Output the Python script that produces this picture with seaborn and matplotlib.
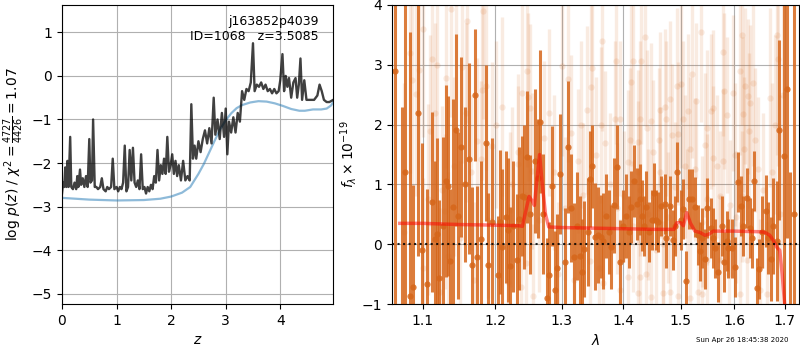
import numpy as np
import pandas as pd
import matplotlib
matplotlib.use("Agg")
import matplotlib.pyplot as plt
import matplotlib.ticker as mticker
import seaborn as sns

# ---------------- redshift probability ----------------
z_grid = [0.00, 0.02, 0.04, 0.06, 0.08, 0.10, 0.12, 0.15, 0.17, 0.20, 0.23, 0.26,
          0.28, 0.30, 0.33, 0.35, 0.38, 0.41, 0.44, 0.47, 0.50, 0.52, 0.55, 0.57,
          0.60, 0.63, 0.66, 0.70, 0.73, 0.76, 0.80, 0.83, 0.86, 0.90, 0.93, 0.96,
          1.00, 1.03, 1.06, 1.09, 1.12, 1.15, 1.18, 1.21, 1.24, 1.27, 1.30, 1.33,
          1.36, 1.39, 1.42, 1.45, 1.48, 1.51, 1.54, 1.57, 1.60, 1.63, 1.66, 1.69,
          1.72, 1.75, 1.78, 1.81, 1.84, 1.87, 1.90, 1.93, 1.96, 1.99, 2.02, 2.05,
          2.08, 2.11, 2.14, 2.18, 2.22, 2.26, 2.30, 2.34, 2.37, 2.40, 2.43, 2.46,
          2.50, 2.54, 2.58, 2.62, 2.66, 2.70, 2.74, 2.78, 2.81, 2.85, 2.89, 2.93,
          2.97, 3.00, 3.03, 3.06, 3.10, 3.14, 3.18, 3.22, 3.26, 3.30, 3.34, 3.38,
          3.42, 3.46, 3.50, 3.53, 3.57, 3.61, 3.65, 3.69, 3.73, 3.77, 3.81, 3.85,
          3.89, 3.93, 3.97, 4.00, 4.04, 4.07, 4.10, 4.13, 4.16, 4.20, 4.24, 4.28,
          4.31, 4.34, 4.37, 4.40, 4.44, 4.48, 4.55, 4.62, 4.68, 4.72, 4.76, 4.80,
          4.85, 4.90, 4.97]
log_pz = [-2.70, -2.45, -2.55, -2.10, -2.55, -1.95, -2.55, -1.40, -2.55, -2.60, -2.45, -2.60,
          -2.30, -2.55, -2.15, -2.50, -2.35, -2.55, -2.30, -2.55, -1.45, -2.45, -2.40, -1.00,
          -2.55, -2.55, -2.60, -2.55, -2.35, -2.60, -2.65, -2.55, -2.60, -2.55, -1.90, -2.60,
          -2.55, -2.65, -2.55, -2.60, -2.45, -1.60, -2.65, -2.55, -1.70, -2.40, -1.65, -2.45,
          -2.55, -2.40, -2.60, -1.80, -2.60, -2.55, -2.70, -2.55, -2.65, -2.50, -2.60, -2.30,
          -2.45, -1.70, -2.40, -2.05, -2.25, -1.90, -2.25, -1.40, -2.20, -2.05, -1.80, -2.25,
          -1.95, -2.30, -2.05, -2.40, -1.95, -2.40, -2.30, -2.40, -0.65, -1.90, -1.60, -1.90,
          -1.50, -1.75, -1.45, -1.25, -1.55, -1.20, -1.55, -0.50, -1.35, -1.00, -1.45, -0.85,
          -1.40, -0.75, -1.80, -1.05, -1.30, -0.95, -1.30, -0.85, -1.05, -0.35, -0.55, -0.30,
          -0.35, -0.15, 0.75, -0.35, -0.20, -0.25, -0.15, -0.30, -0.20, -0.35, -0.30, -0.40,
          -0.30, -0.40, -0.35, -0.10, 0.50, -0.35, 0.00, -0.25, -0.05, -0.50, -0.15, -0.05,
          -0.50, -0.20, 0.40, -0.55, -0.10, -0.55, -0.55, -0.55, -0.45, -0.20, -0.35, -0.55,
          -0.60, -0.60, -0.55]

z_chi = [0.0, 0.5, 1.0, 1.5, 1.8, 2.0, 2.2, 2.35, 2.5, 2.6, 2.7, 2.8, 2.9, 3.0, 3.1,
         3.2, 3.3, 3.45, 3.6, 3.75, 3.9, 4.05, 4.2, 4.35, 4.45, 4.6, 4.75, 4.85, 4.93, 4.97]
chi_curve = [-2.80, -2.84, -2.86, -2.85, -2.82, -2.77, -2.68, -2.55, -2.25, -2.02, -1.75,
             -1.48, -1.22, -1.02, -0.86, -0.74, -0.67, -0.61, -0.58, -0.59, -0.63, -0.69,
             -0.76, -0.80, -0.80, -0.77, -0.77, -0.75, -0.68, -0.60]

# ---------------- 1D spectrum (primary beam) ----------------
wave = [1.064, 1.0727, 1.0771, 1.0827, 1.0870, 1.0931, 1.0983, 1.1053, 1.1129, 1.1164,
        1.1196, 1.1222, 1.1276, 1.1313, 1.1336, 1.1372, 1.1413, 1.1454, 1.1482, 1.1524,
        1.1575, 1.1635, 1.1677, 1.1719, 1.1748, 1.1795, 1.1876, 1.1904, 1.1960, 1.2038,
        1.2072, 1.2106, 1.2155, 1.2194, 1.2218, 1.2267, 1.2316, 1.2350, 1.2390, 1.2430,
        1.2475, 1.2521, 1.2591, 1.2631, 1.2672, 1.2717, 1.2768, 1.2804, 1.2845, 1.2897,
        1.2928, 1.2980, 1.3058, 1.3106, 1.3154, 1.3191, 1.3238, 1.3291, 1.3329, 1.3361,
        1.3420, 1.3458, 1.3491, 1.3534, 1.3578, 1.3637, 1.3670, 1.3719, 1.3757, 1.3801,
        1.3845, 1.3900, 1.3950, 1.4003, 1.4053, 1.4093, 1.4138, 1.4178, 1.4234, 1.4280,
        1.4326, 1.4361, 1.4396, 1.4448, 1.4489, 1.4523, 1.4558, 1.4598, 1.4657, 1.4716,
        1.4746, 1.4805, 1.4864, 1.4900, 1.4941, 1.5001, 1.5049, 1.5103, 1.5145, 1.5206,
        1.5255, 1.5316, 1.5347, 1.5396, 1.5445, 1.5491, 1.5553, 1.5591, 1.5635, 1.5697,
        1.5759, 1.5810, 1.5854, 1.5886, 1.5950, 1.6014, 1.6078, 1.6124, 1.6175, 1.6241,
        1.6306, 1.6352, 1.6391, 1.6450, 1.6490, 1.6537, 1.6616, 1.6669, 1.6716, 1.6770,
        1.6838, 1.6892, 1.6987, 1.7056, 1.7110, 1.7190]
flux = [2.89, -1.30, 1.20, -0.86, -0.71, 2.20, -0.10, -0.67, 0.71, 0.09,
        0.17, -0.56, 0.30, 1.06, 0.97, -0.28, 0.62, 1.91, 0.48, 1.63,
        1.00, 1.43, -0.34, 2.50, -0.22, 0.09, 1.69, -0.35, 0.37, -0.52,
        0.37, -0.04, 0.46, 0.24, -0.37, 0.30, -0.26, 0.43, 0.81, 0.79,
        1.46, 0.50, 1.39, 1.10, 2.05, 0.51, -0.89, -0.52, 0.97, -0.77,
        -0.40, 1.18, -0.30, 1.63, 0.61, -0.21, 0.30, -0.20, -0.47, -0.08,
        0.20, 1.09, 1.30, 0.13, 0.16, 0.13, 0.05, 0.47, 0.20, -0.04,
        0.65, 1.29, -0.29, 0.30, 0.47, 0.20, 0.63, 1.06, 0.68, 0.75,
        0.48, 0.30, 0.63, 0.20, 0.40, 0.86, 0.41, 0.37, 0.64, 0.68,
        0.11, 0.64, 0.07, 0.30, 1.21, 0.40, 0.59, -0.62, 0.75, 0.75,
        0.63, 0.16, -0.12, 0.10, -0.24, 0.60, 0.27, 0.10, -0.07, -0.46,
        0.31, -0.29, 0.05, -0.07, -0.07, -0.38, 1.04, 0.64, 0.30, 0.78,
        0.27, 0.10, 1.06, -0.73, -0.41, 0.20, 0.55, 0.10, -0.24, 0.30,
        0.06, 1.91, 1.48, 2.60, -2.00, 0.50]
flux_err = [4.5, 3.6, 4.5, 4.4, 1.7, 2.4, 1.8, 1.6, 1.5, 1.3,
            1.6, 1.3, 1.5, 1.6, 1.5, 1.2, 1.8, 1.6, 1.4, 1.5,
            1.3, 1.6, 1.3, 1.1, 1.2, 1.3, 1.3, 1.2, 1.4, 1.0,
            1.2, 1.3, 1.1, 1.2, 1.0, 1.1, 1.1, 1.2, 1.0, 1.2,
            1.1, 1.0, 1.2, 1.0, 1.2, 1.0, 1.0, 0.9, 1.0, 1.0,
            0.9, 1.0, 0.9, 1.1, 0.9, 0.9, 0.9, 1.0, 0.9, 0.8,
            0.9, 0.8, 0.7, 0.9, 0.8, 0.7, 0.8, 0.7, 0.7, 0.7,
            0.8, 0.7, 0.7, 0.6, 0.7, 0.6, 0.6, 0.6, 0.6, 0.6,
            0.6, 0.5, 0.6, 0.5, 0.5, 0.5, 0.5, 0.5, 0.5, 0.5,
            0.5, 0.5, 0.5, 0.5, 0.5, 0.5, 0.5, 0.5, 0.5, 0.5,
            0.5, 0.5, 0.5, 0.5, 0.5, 0.5, 0.5, 0.5, 0.5, 0.5,
            0.5, 0.5, 0.5, 0.5, 0.5, 0.5, 0.5, 0.5, 0.5, 0.5,
            0.5, 0.5, 0.5, 0.5, 0.5, 0.6, 0.6, 0.6, 0.7, 0.8,
            1.0, 1.5, 3.0, 2.5, 3.2, 6.0]

# ---------------- 1D spectrum (second beam, drawn faint) ----------------
wave_b = [1.0750, 1.0827, 1.0862, 1.0905, 1.0948, 1.1000, 1.1000, 1.1066, 1.1090, 1.1120,
          1.1164, 1.1191, 1.1230, 1.1258, 1.1294, 1.1313, 1.1340, 1.1386, 1.1420, 1.1445,
          1.1500, 1.1534, 1.1580, 1.1602, 1.1663, 1.1700, 1.1743, 1.1804, 1.1814, 1.1831,
          1.1876, 1.1900, 1.1957, 1.2019, 1.2100, 1.2194, 1.2222, 1.2250, 1.2331, 1.2340,
          1.2380, 1.2390, 1.2455, 1.2475, 1.2480, 1.2516, 1.2551, 1.2566, 1.2650, 1.2733,
          1.2800, 1.2887, 1.2950, 1.3001, 1.3050, 1.3106, 1.3149, 1.3200, 1.3254, 1.3300,
          1.3345, 1.3404, 1.3447, 1.3469, 1.3485, 1.3550, 1.3600, 1.3625, 1.3650, 1.3660,
          1.3702, 1.3780, 1.3869, 1.3886, 1.3890, 1.3942, 1.3942, 1.4010, 1.4081, 1.4081,
          1.4115, 1.4138, 1.4166, 1.4170, 1.4251, 1.4257, 1.4250, 1.4280, 1.4280, 1.4290,
          1.4297, 1.4378, 1.4396, 1.4413, 1.4430, 1.4482, 1.4482, 1.4511, 1.4570, 1.4610,
          1.4628, 1.4634, 1.4680, 1.4680, 1.4716, 1.4746, 1.4780, 1.4805, 1.4817, 1.4846,
          1.4894, 1.4929, 1.4953, 1.4960, 1.5013, 1.5043, 1.5080, 1.5110, 1.5133, 1.5165,
          1.5170, 1.5200, 1.5260, 1.5286, 1.5316, 1.5367, 1.5384, 1.5384, 1.5447, 1.5480,
          1.5480, 1.5491, 1.5553, 1.5603, 1.5603, 1.5665, 1.5728, 1.5730, 1.5779, 1.5791,
          1.5804, 1.5854, 1.5900, 1.5918, 1.5982, 1.6014, 1.6033, 1.6110, 1.6111, 1.6150,
          1.6156, 1.6175, 1.6195, 1.6208, 1.6240, 1.6273, 1.6293, 1.6306, 1.6372, 1.6398,
          1.6470, 1.6503, 1.6570, 1.6636, 1.6703, 1.6740, 1.6804, 1.6840, 1.6872, 1.6910,
          1.6975]
flux_b = [0.20, 3.19, 2.75, 2.51, 2.91, 3.60, -0.40, 0.75, 1.90, 3.10,
          2.20, 3.00, -0.80, 0.91, 0.55, 2.78, -0.20, 3.93, 1.30, 4.03,
          0.10, 2.96, 2.20, 3.73, 1.20, -0.60, 1.72, 1.43, 2.58, 3.89,
          2.64, 0.40, 1.65, 2.00, 2.30, -0.63, 0.58, 1.00, 1.55, 1.34,
          -0.72, 2.53, -0.32, 2.89, 2.46, 2.28, 1.22, -0.86, 0.40, 1.77,
          2.20, 1.20, -0.50, 2.98, 0.60, 2.77, 1.86, -0.60, 1.39, 2.00,
          0.82, 2.24, -0.28, 2.63, 2.94, 1.50, -0.40, 1.99, 3.40, -0.65,
          1.70, 1.00, 2.10, 3.07, 0.60, 2.10, -0.77, 0.80, 1.37, -0.55,
          1.75, 2.71, 3.07, 0.30, 1.20, 1.71, -0.82, 2.09, 0.90, -0.55,
          3.07, 3.47, -0.50, 1.95, 0.50, 2.06, -0.88, 1.54, -0.10, 1.75,
          2.25, 1.20, 0.00, -0.81, 2.29, 2.10, 0.45, -0.80, 2.43, 1.82,
          0.95, 2.64, -0.86, 1.85, 2.68, 2.10, 1.30, 0.50, 2.22, -0.90,
          1.60, 2.85, 1.25, 2.40, -0.80, 3.55, 0.38, -0.83, 1.66, 0.75,
          -0.27, 1.94, 2.22, 2.28, 1.45, 1.30, 0.80, -0.27, 3.21, 1.40,
          2.56, 2.16, -0.50, 0.65, 2.53, 1.50, 0.46, -0.83, 2.89, 0.80,
          3.49, 2.17, 1.60, 2.64, -0.27, 2.47, 1.90, 2.36, 2.70, 1.74,
          1.26, -0.77, 0.90, -0.83, 2.45, 1.20, 2.00, 3.50, 3.10, 0.50,
          2.50]
flux_err_b = [2.5, 2.0, 1.8, 1.7, 1.9, 1.8, 1.5, 1.6, 1.6, 1.7,
              1.5, 1.6, 1.4, 1.4, 1.3, 1.5, 1.4, 1.8, 1.5, 1.6,
              1.3, 1.6, 1.5, 1.7, 1.3, 1.3, 1.4, 1.3, 1.5, 1.8,
              1.4, 1.3, 1.4, 1.4, 1.5, 1.3, 1.3, 1.3, 1.3, 1.3,
              1.3, 1.5, 1.2, 1.6, 1.4, 1.4, 1.3, 1.2, 1.2, 1.3,
              1.4, 1.3, 1.2, 1.5, 1.2, 1.4, 1.3, 1.2, 1.2, 1.4,
              1.2, 1.4, 1.2, 1.4, 1.5, 1.3, 1.2, 1.3, 1.5, 1.2,
              1.2, 1.2, 1.3, 1.4, 1.1, 1.3, 1.2, 1.1, 1.2, 1.2,
              1.2, 1.4, 1.4, 1.1, 1.2, 1.2, 1.2, 1.3, 1.1, 1.2,
              1.4, 1.5, 1.2, 1.3, 1.1, 1.3, 1.2, 1.2, 1.1, 1.2,
              1.3, 1.1, 1.1, 1.2, 1.3, 1.3, 1.1, 1.2, 1.3, 1.2,
              1.1, 1.3, 1.2, 1.2, 1.4, 1.3, 1.2, 1.1, 1.3, 1.2,
              1.2, 1.4, 1.2, 1.3, 1.2, 1.5, 1.1, 1.2, 1.2, 1.1,
              1.1, 1.3, 1.3, 1.3, 1.2, 1.2, 1.1, 1.1, 1.4, 1.2,
              1.3, 1.3, 1.1, 1.1, 1.3, 1.2, 1.1, 1.2, 1.4, 1.1,
              1.5, 1.3, 1.2, 1.3, 1.1, 1.3, 1.3, 1.3, 1.4, 1.2,
              1.2, 1.2, 1.3, 1.2, 1.5, 1.5, 1.5, 2.0, 1.8, 2.0,
              2.5]

# ---------------- best-fit model ----------------
wave_model = [1.070, 1.100, 1.150, 1.200, 1.235, 1.240, 1.245, 1.250, 1.255, 1.258,
              1.262, 1.266, 1.270, 1.275, 1.280, 1.300, 1.350, 1.400, 1.450, 1.488,
              1.493, 1.500, 1.505, 1.511, 1.518, 1.526, 1.535, 1.545, 1.552, 1.560,
              1.600, 1.650, 1.660, 1.670, 1.678, 1.684, 1.690, 1.695, 1.700]
flux_model = [0.35, 0.35, 0.33, 0.32, 0.31, 0.30, 0.55, 0.80, 0.72, 0.65,
              1.10, 1.50, 1.00, 0.50, 0.29, 0.28, 0.27, 0.26, 0.25, 0.25,
              0.36, 0.36, 0.31, 0.53, 0.35, 0.22, 0.20, 0.15, 0.17, 0.22,
              0.22, 0.21, 0.20, 0.15, 0.05, -0.05, -0.10, -0.50, -1.00]

title_lines = "j163852p4039\nID=1068   z=3.5085"
stamp = "Sun Apr 26 18:45:38 2020"
grism_color = (0.84, 0.40, 0.10)

fig = plt.figure(figsize=(8, 3.5), dpi=100)
ax1 = fig.add_axes([0.0775, 0.131, 0.339, 0.855])
ax2 = fig.add_axes([0.490, 0.131, 0.509, 0.855])

# ---- p(z) panel ----
df_pz = pd.DataFrame({"z": z_grid, "logp": log_pz})
df_chi = pd.DataFrame({"z": z_chi, "chi": chi_curve})
sns.lineplot(data=df_chi, x="z", y="chi", ax=ax1, color="tab:blue", alpha=0.5,
             lw=1.6, sort=False, estimator=None)
sns.lineplot(data=df_pz, x="z", y="logp", ax=ax1, color="k", alpha=0.75,
             lw=1.7, sort=False, estimator=None)
ax1.set_xlim(0, 4.97)
ax1.set_ylim(-5.24, 1.63)
ax1.set_xticks([0, 1, 2, 3, 4])
ax1.set_yticks([-5, -4, -3, -2, -1, 0, 1])
ax1.yaxis.set_major_formatter(mticker.FuncFormatter(lambda v, p: f"{v:.0f}".replace("-", "\u2212")))
ax1.grid(True, color="#b0b0b0", lw=0.8)
ax1.set_axisbelow(True)
ax1.set_xlabel("$z$", fontsize=10)
ax1.set_ylabel(r"log $p(z)$ / $\chi^2=\frac{4727}{4426}=1.07$", fontsize=10)
ax1.text(0.948, 0.965, title_lines, transform=ax1.transAxes, ha="right", va="top",
         fontsize=9, linespacing=1.15)

# ---- spectrum panel ----
ax2.errorbar(wave_b, flux_b, yerr=flux_err_b, fmt="o", color=grism_color, ms=4.5,
             elinewidth=2.4, alpha=0.13, mec="none", zorder=1)
ax2.errorbar(wave, flux, yerr=flux_err, fmt="o", color=grism_color, ms=4.5,
             elinewidth=2.2, alpha=0.85, mec="none", zorder=2)
df_model = pd.DataFrame({"wave": wave_model, "flux": flux_model})
sns.lineplot(data=df_model, x="wave", y="flux", ax=ax2, color="red", alpha=0.5,
             lw=2.5, sort=False, estimator=None, zorder=3)
ax2.axhline(0, color="k", ls=":", lw=1.5, alpha=0.85, zorder=4)
ax2.set_xscale("log")
ax2.set_xlim(1.06, 1.73)
ax2.set_ylim(-1, 4)
ax2.xaxis.set_major_locator(mticker.FixedLocator([1.1, 1.2, 1.3, 1.4, 1.5, 1.6, 1.7]))
ax2.xaxis.set_major_formatter(mticker.FormatStrFormatter("%.1f"))
ax2.xaxis.set_minor_locator(mticker.NullLocator())
ax2.set_yticks([-1, 0, 1, 2, 3, 4])
ax2.yaxis.set_major_formatter(mticker.FuncFormatter(lambda v, p: f"{v:.0f}".replace("-", "\u2212")))
ax2.grid(True, color="#b0b0b0", lw=0.8)
ax2.set_axisbelow(True)
ax2.set_xlabel(r"$\lambda$", fontsize=10)
ax2.set_ylabel(r"$f_\lambda \times 10^{-19}$", fontsize=10, labelpad=2)

fig.text(0.985, 0.028, stamp, ha="right", va="center", fontsize=5)

fig.savefig("out.png", dpi=100)
